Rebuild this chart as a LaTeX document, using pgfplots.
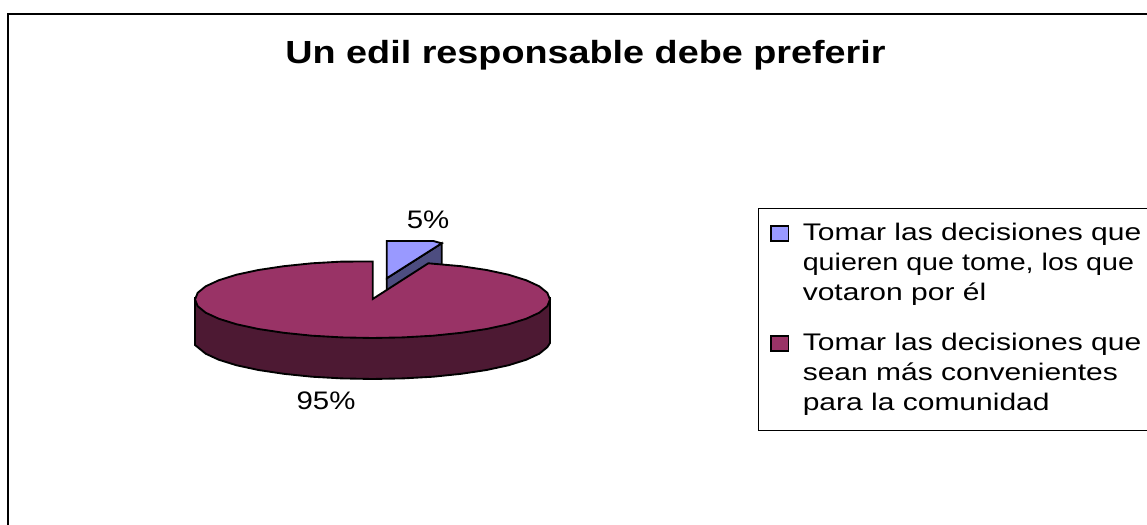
\documentclass[border=0pt]{standalone}
\usepackage{pgfplots}
\pgfplotsset{compat=1.18}
\usepackage{fontspec}
\setmainfont{Liberation Sans}
\newfontfamily\titlefont[FakeStretch=1.18]{Liberation Sans Bold}
\newfontfamily\bodyfont[FakeStretch=1.25]{Liberation Sans}
\newfontfamily\valuefont[FakeStretch=1.16]{Liberation Sans}
\definecolor{sliceA}{HTML}{9999FF}
\definecolor{sliceAside}{HTML}{4D4D80}
\definecolor{sliceB}{HTML}{993366}
\definecolor{sliceBside}{HTML}{4D1933}
% three-line legend entry whose baseline is its first line
\newcommand\entrylines[3]{\vtop{\fontsize{18}{22.5}\bodyfont\hbox{#1}\hbox{#2}\hbox{#3}}}
\begin{document}
\begin{tikzpicture}
\path[use as bounding box] (0,0) rectangle (860.25pt,393.75pt);
\begin{axis}[
  at={(0,0)}, anchor=south west,
  scale only axis, width=860.25pt, height=393.75pt,
  xmin=0, xmax=1147, ymin=0, ymax=525, y dir=reverse,
  hide axis, clip=false,
  legend style={at={(axis cs:758,208)}, anchor=north west, draw=none, fill=none,
    inner xsep=9pt, inner ysep=9pt, row sep=64pt,
    cells={anchor=base west}, column sep=8pt},
  legend image code/.code={\path[#1,line width=1.4pt] (0pt,-0.5pt) rectangle (13pt,11pt);},
]
% legend frame, running off the right edge
\draw[black, line width=0.7pt] (axis cs:1160,208) -- (axis cs:758,208) -- (axis cs:758,430.7) -- (axis cs:1160,430.7);
% 5% slice: side wall, then top face
\addplot[forget plot, fill=sliceAside, draw=black, line width=1.4pt, mark=none] coordinates {
  (386.7,278.3) (441.7,243.3) (441.7,266) (426.7,268) (386.7,292)} -- cycle;
\addplot[fill=sliceA, draw=black, line width=1.4pt, mark=none] coordinates {
  (386.7,278.3) (386.7,241) (433.3,241) (441.7,243.3)} -- cycle;
\addlegendentry{\entrylines{Tomar las decisiones que}{\scalebox{0.955}[1]{quieren que tome, los que}}{votaron por él}}
% 95% slice: outer wall of the front half
\addplot[forget plot, fill=sliceBside, draw=black, line width=1.4pt, mark=none] coordinates {
  (195,298) (195,345) (197.7,347.2) (205.7,353.7) (218.8,359.75) (236.5,365.25) (258.4,370)
  (283.75,373.8) (311.8,376.7) (341.7,378.4) (372.5,379) (403.3,378.4) (433.2,376.7)
  (461.25,373.8) (486.6,370) (508.5,365.25) (526.2,359.75) (539.3,353.7) (547.3,347.2)
  (550,343) (550,298)} -- cycle;
% 95% slice: top face
\addplot[fill=sliceB, draw=black, line width=1.4pt, mark=none] coordinates {
  (372.7,299) (372.7,261.5) (341.7,261.6) (311.8,263.3) (283.75,266.2) (258.4,270)
  (236.5,274.7) (218.8,280.25) (205.7,286.3) (197.7,292.8) (195,299.5) (197.7,306.2)
  (205.7,312.7) (218.8,318.75) (236.5,324.25) (258.4,329) (283.75,332.8) (311.8,335.7)
  (341.7,337.4) (372.5,338) (403.3,337.4) (433.2,335.7) (461.25,332.8) (486.6,329)
  (508.5,324.25) (526.2,318.75) (539.3,312.7) (547.3,306.2) (550,299.5) (547.3,292.8)
  (539.3,286.3) (526.2,280.25) (508.5,274.7) (486.6,270) (461.25,266.2) (428.3,263.3)} -- cycle;
\addlegendentry{\entrylines{Tomar las decisiones que}{sean más convenientes}{para la comunidad}}
% outer chart frame
\draw[black, line width=1.5pt] (axis cs:8,530) -- (axis cs:8,13.5) -- (axis cs:1155,13.5);
% title and value labels
\node[anchor=center] at (axis cs:585.5,55) {\fontsize{24}{28}\titlefont Un edil responsable debe preferir};
\node[anchor=center] at (axis cs:428,220) {\fontsize{19}{22}\valuefont 5\%};
\node[anchor=center] at (axis cs:326,401) {\fontsize{19}{22}\valuefont 95\%};
\end{axis}
\end{tikzpicture}
\end{document}
